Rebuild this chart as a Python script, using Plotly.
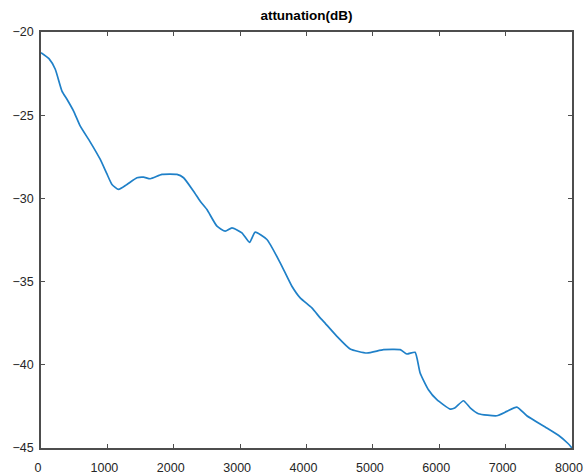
import plotly.graph_objects as go

freq_hz = [0, 120, 215, 316, 400, 491, 592, 740, 893, 990, 1069, 1169, 1295, 1446, 1545, 1646, 1822, 2048, 2148,
           2298, 2399, 2500, 2651, 2776, 2877, 3027, 3142, 3227, 3404, 3604, 3780, 3905, 4081, 4206, 4256, 4458,
           4658, 4910, 5160, 5411, 5512, 5636, 5712, 5837, 5964, 6164, 6233, 6364, 6470, 6590, 6867, 7018, 7169,
           7319, 7620, 7800, 7940, 8000]
atten_db = [-21.24, -21.6, -22.24, -23.55, -24.1, -24.75, -25.66, -26.6, -27.66, -28.5, -29.16, -29.46, -29.16,
            -28.76, -28.72, -28.82, -28.56, -28.56, -28.76,
            -29.57, -30.17, -30.67, -31.67, -31.97, -31.77, -32.07, -32.64, -32.03, -32.47, -33.87, -35.28,
            -35.98, -36.58, -37.18, -37.39, -38.29,
            -39.05, -39.29, -39.09, -39.09, -39.35, -39.25, -40.49, -41.5, -42.1, -42.66, -42.6, -42.16, -42.6,
            -42.94, -43.06, -42.8, -42.54,
            -43.06, -43.8, -44.25, -44.73, -45.0]

x_ticks = [0, 1000, 2000, 3000, 4000, 5000, 6000, 7000, 8000]
y_ticks = [-45, -40, -35, -30, -25, -20]

fig = go.Figure()
fig.add_trace(go.Scatter(x=freq_hz, y=atten_db, mode="lines", line_shape="spline",
                         line=dict(color="#1f80c8", width=1.7, smoothing=0.5), showlegend=False))

axis_common = dict(showgrid=False, zeroline=False, showline=True, linecolor="#4d4d4d", linewidth=1.5,
                   mirror="ticks", ticks="inside", ticklen=4, tickwidth=1, tickcolor="#4d4d4d",
                   automargin=False,
                   tickfont=dict(family="Liberation Sans, Arial", size=12.5, color="#262626"))

fig.update_layout(
    width=587, height=475,
    margin=dict(l=41, r=15, t=32, b=27),
    paper_bgcolor="white", plot_bgcolor="white",
    title=dict(text="<b>attunation(dB)</b>", x=0.5, xref="paper", xanchor="center", y=0.977, yanchor="top",
               font=dict(family="Liberation Sans, Arial", size=13.5, color="#000000")),
    xaxis=dict(range=[0, 8000], tickvals=x_ticks, ticklabelshift=-3, ticklabelstandoff=7, **axis_common),
    yaxis=dict(range=[-45, -20], tickvals=y_ticks, ticklabelstandoff=3, **axis_common),
)

fig.write_html("out.html", config={"displayModeBar": False},
               post_script="document.body.style.margin='0';document.body.style.overflow='hidden';")
